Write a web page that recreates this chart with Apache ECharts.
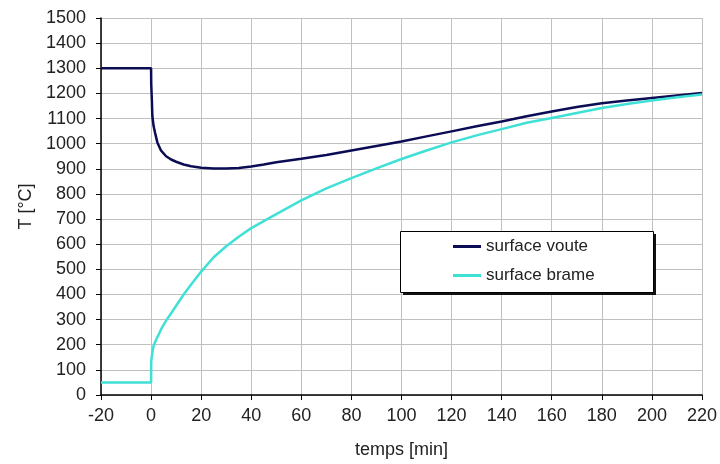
<!DOCTYPE html>
<html>
<head>
<meta charset="utf-8">
<script src="https://cdn.jsdelivr.net/npm/echarts@6/dist/echarts.min.js"></script>
<style>
html,body{margin:0;padding:0;background:#fff;}
#chart{width:720px;height:464px;}
</style>
</head>
<body>
<div id="chart"></div>
<script>
// temps [min] / T [°C]
var tVoute = [-20, 0, 0.05, 0.3, 0.5, 1, 1.6, 2.5, 4, 6, 8, 10, 13, 16, 20, 25, 30, 35, 40, 45, 50, 60, 70, 80, 90, 100, 110, 120, 130, 140, 150, 160, 170, 180, 190, 200, 210, 220];
var yVoute = [1300, 1300, 1240, 1175, 1110, 1070, 1043, 1005, 972, 950, 937, 928, 917, 910, 904, 901, 901, 903, 909, 917, 926, 940, 955, 973, 991, 1009, 1029, 1049, 1069, 1088, 1109, 1128, 1146, 1161, 1172, 1182, 1192, 1202];

var tBrame = [-20, 0, 0.05, 0.5, 1, 2, 3, 4, 6, 8, 10, 13, 16, 20, 25, 30, 35, 40, 50, 60, 70, 80, 90, 100, 110, 120, 130, 140, 150, 160, 170, 180, 190, 200, 210, 220];
var yBrame = [50, 50, 133, 170, 195, 220, 240, 262, 296, 325, 355, 400, 440, 491, 548, 592, 630, 664, 720, 774, 822, 863, 902, 939, 973, 1005, 1033, 1058, 1083, 1102, 1122, 1142, 1158, 1172, 1185, 1196];

var names = ['surface voute', 'surface brame'];

function pairs(t, y) {
    var out = [];
    for (var i = 0; i < t.length; i++) out.push([t[i], y[i]]);
    return out;
}

var font = 'Liberation Sans, Arial, sans-serif';
var myChart = echarts.init(document.getElementById('chart'));
var option = {
    backgroundColor: '#fff',
    animation: false,
    grid: { left: 101, right: 17, top: 18, bottom: 68 },
    // legend frame with its shadow
    graphic: [
        { type: 'rect', z: 3, left: 403, top: 234, shape: { width: 253, height: 61 }, style: { fill: '#111' } },
        { type: 'rect', z: 3, left: 400, top: 231, shape: { width: 253, height: 61 }, style: { fill: '#fff', stroke: '#000', lineWidth: 1 } }
    ],
    legend: {
        orient: 'vertical',
        left: 453,
        top: 238,
        z: 5,
        data: names,
        icon: 'rect',
        itemWidth: 28,
        itemHeight: 3,
        itemGap: 12,
        padding: 0,
        textStyle: { fontFamily: font, fontSize: 17, color: '#222', padding: [0, 0, 0, 0] }
    },
    xAxis: {
        type: 'value',
        min: -20, max: 220, interval: 20,
        name: 'temps [min]',
        nameLocation: 'middle',
        nameGap: 46,
        nameTextStyle: { fontFamily: font, fontSize: 18, color: '#222' },
        axisLine: { onZero: false, lineStyle: { color: '#000', width: 1.5 } },
        axisTick: { show: true, length: 5, lineStyle: { color: '#000' } },
        axisLabel: { fontFamily: font, fontSize: 18, color: '#222', margin: 12 },
        splitLine: { show: true, lineStyle: { color: '#c0c0c0', width: 1 } }
    },
    yAxis: {
        type: 'value',
        min: 0, max: 1500, interval: 100,
        name: 'T [°C]',
        nameLocation: 'middle',
        nameGap: 61,
        nameTextStyle: { fontFamily: font, fontSize: 18, color: '#222' },
        axisLine: { show: true, onZero: false, lineStyle: { color: '#000', width: 1.5 } },
        axisTick: { show: true, length: 5, lineStyle: { color: '#000' } },
        axisLabel: { fontFamily: font, fontSize: 18, color: '#222', margin: 15, formatter: function (v) { return String(v); } },
        splitLine: { show: true, lineStyle: { color: '#c0c0c0', width: 1 } }
    },
    series: [
        {
            name: names[0],
            type: 'line',
            showSymbol: false,
            color: '#0c0c55',
            lineStyle: { width: 2.5, color: '#0c0c55' },
            data: pairs(tVoute, yVoute)
        },
        {
            name: names[1],
            type: 'line',
            showSymbol: false,
            color: '#3fe0d6',
            lineStyle: { width: 2.5, color: '#3fe0d6' },
            data: pairs(tBrame, yBrame)
        }
    ]
};
myChart.setOption(option);

window.onresize = function(){
    myChart.resize();
}
</script>
</body>
</html>
